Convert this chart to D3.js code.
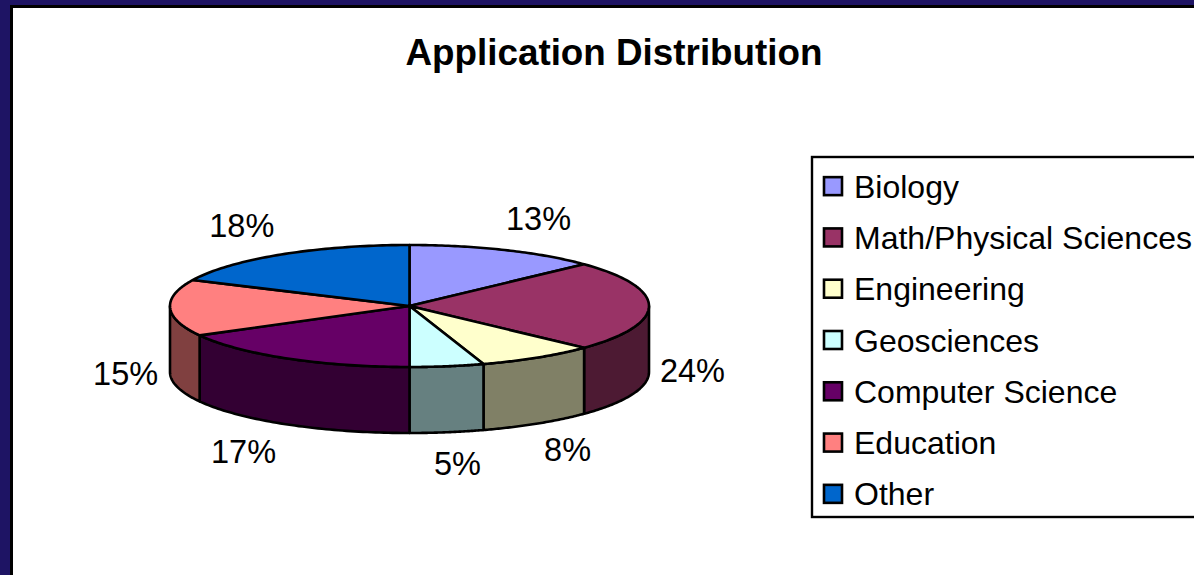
<!DOCTYPE html>
<html><head><meta charset="utf-8">
<script src="https://cdnjs.cloudflare.com/ajax/libs/d3/7.8.5/d3.min.js"></script>
<style>html,body{margin:0;padding:0;background:#1e1464;overflow:hidden}svg{display:block}text{font-family:"Liberation Sans",Arial,sans-serif;fill:#000}</style>
</head><body><svg id="c" width="1194" height="575"></svg>
<script>
const title = "Application Distribution";
const categories = ["Biology","Math/Physical Sciences","Engineering","Geosciences","Computer Science","Education","Other"];
const shares = [13,24,8,5,17,15,18];
const topColors = ["#9999FF","#993366","#FFFFCC","#CCFFFF","#660066","#FF8080","#0066CC"];
const sideColors = ["#4D4D80","#4D1A33","#808066","#668080","#330033","#804040","#003366"];
const labelReach = [325,283,295,307,326,284,313];

const W=1194,H=575;
const svg=d3.select("#c");
svg.append("rect").attr("x",10).attr("y",5).attr("width",W).attr("height",H).attr("fill","#000");
svg.append("rect").attr("x",13).attr("y",8).attr("width",W).attr("height",H).attr("fill","#fff");
svg.append("text").attr("x",614).attr("y",65).attr("text-anchor","middle")
  .attr("font-size",36.8).attr("font-weight","bold").text(title);

const cx=409.5,cy=306,rx=239.5,ry=61,depth=66;
const sx=d3.scaleLinear().domain([-1,1]).range([cx-rx,cx+rx]);
const sy=d3.scaleLinear().domain([-1,1]).range([cy-ry,cy+ry]);
const px=a=>sx(Math.sin(a)), py=(a,d=0)=>sy(-Math.cos(a))+d;
const line=d3.line();
const arcs=d3.pie().sort(null).value(d=>d)(shares);
const samples=(a,b)=>d3.range(0,61).map(i=>a+(b-a)*i/60);

const g=svg.append("g").attr("stroke","#000").attr("stroke-width",2.6).attr("stroke-linejoin","round");
const front=arcs.map((d,i)=>({i,a:Math.max(d.startAngle,Math.PI/2),b:Math.min(d.endAngle,3*Math.PI/2)})).filter(d=>d.b>d.a);
front.forEach(d=>{
  const s=samples(d.a,d.b);
  const pts=s.map(t=>[px(t),py(t)]).concat(s.slice().reverse().map(t=>[px(t),py(t,depth)]));
  g.append("path").attr("d",line(pts)+"Z").attr("fill",sideColors[d.i]);
});
arcs.forEach((d,i)=>{
  const pts=[[cx,cy]].concat(samples(d.startAngle,d.endAngle).map(t=>[px(t),py(t)]));
  g.append("path").attr("d",line(pts)+"Z").attr("fill",topColors[i]);
});
arcs.forEach((d,i)=>{
  const m=(d.startAngle+d.endAngle)/2;
  const isFront=Math.cos(m)<0.01;
  svg.append("text").attr("text-anchor","middle").attr("font-size",32.5)
    .attr("x",cx+Math.sin(m)*labelReach[i])
    .attr("y",cy-Math.cos(m)*94+(isFront?depth:0)+10)
    .text(d3.format(".0%")(d.value/100));
});
svg.append("rect").attr("x",812).attr("y",157).attr("width",W).attr("height",360)
  .attr("fill","#fff").attr("stroke","#000").attr("stroke-width",2.4);
const rows=d3.scaleBand().domain(categories).range([161,520]);
categories.forEach((c,i)=>{
  const y=rows(c)+rows.bandwidth()/2;
  svg.append("rect").attr("x",824).attr("y",y-9.5).attr("width",18).attr("height",18)
    .attr("fill",topColors[i]).attr("stroke","#000").attr("stroke-width",2.6);
  svg.append("text").attr("x",854).attr("y",y+11).attr("font-size",32).text(c);
});
</script></body></html>
